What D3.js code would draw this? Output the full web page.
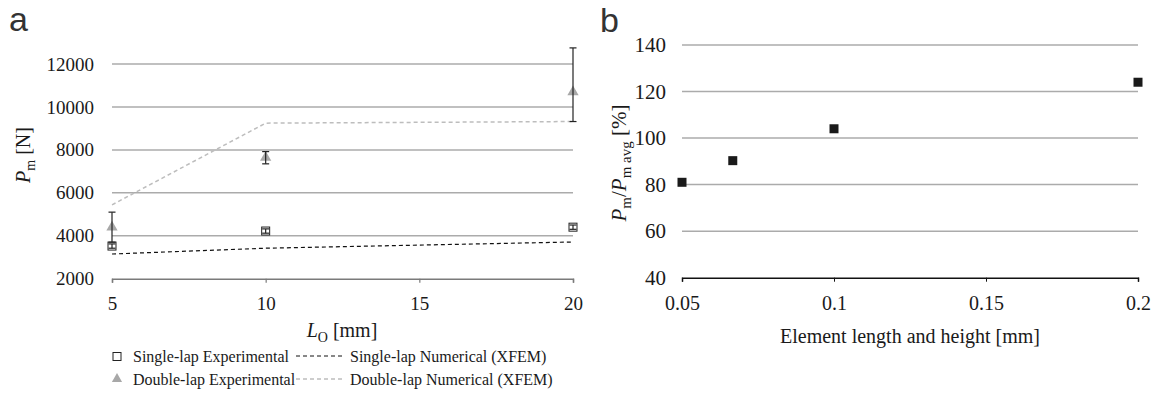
<!DOCTYPE html>
<html>
<head>
<meta charset="utf-8">
<script src="https://cdn.jsdelivr.net/npm/d3@7"></script>
<style>
  body { margin: 0; background: #fff; }
  svg { display: block; }
  text { font-family: "Liberation Serif", "Times New Roman", Times, "DejaVu Serif", serif; fill: #1a1a1a; }
</style>
</head>
<body>
<svg></svg>
<script>
// panel a data
var overlap = [5, 10, 20];
var singleExp = [3520, 4220, 4400];
var singleLo = [3420, 4120, 4300];
var singleHi = [3620, 4320, 4500];
var doubleExp = [4400, 7650, 10700];
var doubleLo = [3700, 7350, 9320];
var doubleHi = [5100, 7920, 12750];
var singleNum = [3150, 3420, 3710];
var doubleNum = [5440, 9245, 9320];
var xTicksA = [5, 10, 15, 20];
var yTicksA = [2000, 4000, 6000, 8000, 10000, 12000];

// panel b data
var elemSize = [0.05, 0.0667, 0.1, 0.2];
var ratio = [81, 90.3, 104, 124];
var xTicksB = [0.05, 0.1, 0.15, 0.2];
var yTicksB = [40, 60, 80, 100, 120, 140];

var serif = '"Liberation Serif", "Times New Roman", Times, "DejaVu Serif", serif';
var svgWidth = 1155;
var svgHeight = 399;
var svg = d3.select('svg').attr("width", svgWidth).attr("height", svgHeight);

// ---------- panel a ----------
var xA = d3.scaleLinear().domain([5, 20]).range([112, 573]);
var yA = d3.scaleLinear().domain([2000, 12000]).range([278.7, 64]);

svg.append("text").text("a").attr("x", 9).attr("y", 31)
    .style("font-family", "Liberation Sans, Arial, sans-serif").style("font-size", "34px").style("fill", "#333");

svg.selectAll(".gridA")
    .data(yTicksA.slice(1))
    .enter()
    .append("line")
    .attr("x1", xA(5)).attr("x2", xA(20))
    .attr("y1", function (d) { return yA(d); })
    .attr("y2", function (d) { return yA(d); })
    .attr("stroke", "#ababab")
    .attr("stroke-width", 1.5);

var axA = svg.append("g")
    .attr("transform", "translate(0," + yA(2000) + ")")
    .attr("font-family", serif)
    .call(d3.axisBottom(xA).tickValues(xTicksA).tickSize(4).tickPadding(14).tickFormat(d3.format("d")));
axA.attr("font-family", serif);
axA.select(".domain").attr("stroke", "#7a7a7a").attr("stroke-width", 1.5);
axA.selectAll(".tick line").attr("stroke", "#7a7a7a").attr("stroke-width", 1.2);
axA.selectAll("text").style("font-size", "19px").style("font-family", serif).attr("fill", "#1a1a1a");

var ayA = svg.append("g")
    .attr("transform", "translate(" + xA(5) + ",0)")
    .call(d3.axisLeft(yA).tickValues(yTicksA).tickSize(0).tickPadding(18).tickFormat(d3.format("d")));
ayA.attr("font-family", serif);
ayA.select(".domain").remove();
ayA.selectAll("text").style("font-size", "19px").style("font-family", serif).attr("fill", "#1a1a1a");

// numerical lines
var lineA = function (vals) {
    return d3.line()
        .x(function (d, i) { return xA(overlap[i]); })
        .y(function (d) { return yA(d); })(vals);
};
svg.append("path").attr("d", lineA(doubleNum)).attr("fill", "none")
    .attr("stroke", "#bdbdbd").attr("stroke-width", 1.5).attr("stroke-dasharray", "4,3");
svg.append("path").attr("d", lineA(singleNum)).attr("fill", "none")
    .attr("stroke", "#111").attr("stroke-width", 1.2).attr("stroke-dasharray", "4,3");

// experimental markers
svg.selectAll(".tri")
    .data(doubleExp)
    .enter()
    .append("path")
    .attr("d", d3.symbol().type(d3.symbolTriangle).size(55))
    .attr("transform", function (d, i) { return "translate(" + xA(overlap[i]) + "," + yA(d) + ")"; })
    .attr("fill", "#a8a8a8");

svg.selectAll(".sq")
    .data(singleExp)
    .enter()
    .append("rect")
    .attr("x", function (d, i) { return xA(overlap[i]) - 4; })
    .attr("y", function (d) { return yA(d) - 4; })
    .attr("width", 8).attr("height", 8)
    .attr("fill", "#fff").attr("stroke", "#222").attr("stroke-width", 1);

// error bars
function errBars(lo, hi) {
    var g = svg.append("g").attr("stroke", "#222").attr("stroke-width", 1.2);
    overlap.forEach(function (o, i) {
        var x = xA(o);
        g.append("line").attr("x1", x).attr("x2", x).attr("y1", yA(lo[i])).attr("y2", yA(hi[i]));
        g.append("line").attr("x1", x - 3.5).attr("x2", x + 3.5).attr("y1", yA(lo[i])).attr("y2", yA(lo[i]));
        g.append("line").attr("x1", x - 3.5).attr("x2", x + 3.5).attr("y1", yA(hi[i])).attr("y2", yA(hi[i]));
    });
}
errBars(singleLo, singleHi);
errBars(doubleLo, doubleHi);

// axis titles
var yt = svg.append("text").attr("transform", "translate(30,155) rotate(-90)")
    .attr("text-anchor", "middle").style("font-size", "20px").style("font-family", serif);
yt.append("tspan").text("P").style("font-style", "italic");
yt.append("tspan").text("m").style("font-size", "14px").attr("dy", 5);
yt.append("tspan").text(" [N]").attr("dy", -5);

var xt = svg.append("text").attr("x", 342).attr("y", 337)
    .attr("text-anchor", "middle").style("font-size", "20px").style("font-family", serif);
xt.append("tspan").text("L").style("font-style", "italic");
xt.append("tspan").text("O").style("font-size", "14px").attr("dy", 5);
xt.append("tspan").text(" [mm]").attr("dy", -5);

// legend
var legRows = [358, 381];
svg.append("rect").attr("x", 113).attr("y", legRows[0] - 5.5).attr("width", 8).attr("height", 8)
    .attr("fill", "#fff").attr("stroke", "#222");
svg.append("path").attr("d", d3.symbol().type(d3.symbolTriangle).size(45))
    .attr("transform", "translate(117," + (legRows[1] - 2) + ")").attr("fill", "#a8a8a8");
svg.append("line").attr("x1", 296).attr("x2", 343).attr("y1", legRows[0] - 2).attr("y2", legRows[0] - 2)
    .attr("stroke", "#111").attr("stroke-dasharray", "4,3");
svg.append("line").attr("x1", 296).attr("x2", 343).attr("y1", legRows[1] - 2).attr("y2", legRows[1] - 2)
    .attr("stroke", "#bdbdbd").attr("stroke-width", 1.5).attr("stroke-dasharray", "4,3");
var legText = [["Single-lap Experimental", 133, 0], ["Double-lap Experimental", 133, 1],
    ["Single-lap Numerical (XFEM)", 350, 0], ["Double-lap Numerical (XFEM)", 350, 1]];
svg.selectAll(".leg")
    .data(legText)
    .enter()
    .append("text")
    .text(function (d) { return d[0]; })
    .attr("x", function (d) { return d[1]; })
    .attr("y", function (d) { return legRows[d[2]] + 4; })
    .style("font-size", "16px").style("font-family", serif);

// ---------- panel b ----------
var xB = d3.scaleLinear().domain([0.05, 0.2]).range([682, 1138]);
var yB = d3.scaleLinear().domain([40, 140]).range([277.7, 45]);

svg.append("text").text("b").attr("x", 600).attr("y", 32)
    .style("font-family", "Liberation Sans, Arial, sans-serif").style("font-size", "34px").style("fill", "#333");

svg.selectAll(".gridB")
    .data(yTicksB.slice(1))
    .enter()
    .append("line")
    .attr("x1", xB(0.05)).attr("x2", xB(0.2))
    .attr("y1", function (d) { return yB(d); })
    .attr("y2", function (d) { return yB(d); })
    .attr("stroke", "#ababab")
    .attr("stroke-width", 1.5);

var axB = svg.append("g")
    .attr("transform", "translate(0," + yB(40) + ")")
    .call(d3.axisBottom(xB).tickValues(xTicksB).tickSize(4).tickPadding(14).tickFormat(d3.format("")));
axB.attr("font-family", serif);
axB.select(".domain").attr("stroke", "#111").attr("stroke-width", 1.5);
axB.selectAll(".tick line").attr("stroke", "#111");
axB.selectAll("text").style("font-size", "20px").style("font-family", serif).attr("fill", "#1a1a1a");

var ayB = svg.append("g")
    .attr("transform", "translate(" + xB(0.05) + ",0)")
    .call(d3.axisLeft(yB).tickValues(yTicksB).tickSize(0).tickPadding(16));
ayB.attr("font-family", serif);
ayB.select(".domain").remove();
ayB.selectAll("text").style("font-size", "21px").style("font-family", serif).attr("fill", "#1a1a1a");

svg.selectAll(".pt")
    .data(ratio)
    .enter()
    .append("rect")
    .attr("x", function (d, i) { return xB(elemSize[i]) - 4.5; })
    .attr("y", function (d) { return yB(d) - 4.5; })
    .attr("width", 9).attr("height", 9)
    .attr("fill", "#1a1a1a");

var ytB = svg.append("text").attr("transform", "translate(626,163) rotate(-90)")
    .attr("text-anchor", "middle").style("font-size", "21px").style("font-family", serif);
ytB.append("tspan").text("P").style("font-style", "italic");
ytB.append("tspan").text("m").style("font-size", "15px").attr("dy", 5);
ytB.append("tspan").text("/").attr("dy", -5);
ytB.append("tspan").text("P").style("font-style", "italic");
ytB.append("tspan").text("m avg").style("font-size", "15px").attr("dy", 5);
ytB.append("tspan").text(" [%]").attr("dy", -5);

svg.append("text").text("Element length and height [mm]")
    .attr("x", 910).attr("y", 343).attr("text-anchor", "middle")
    .style("font-size", "20px").style("font-family", serif);
</script>
</body>
</html>
